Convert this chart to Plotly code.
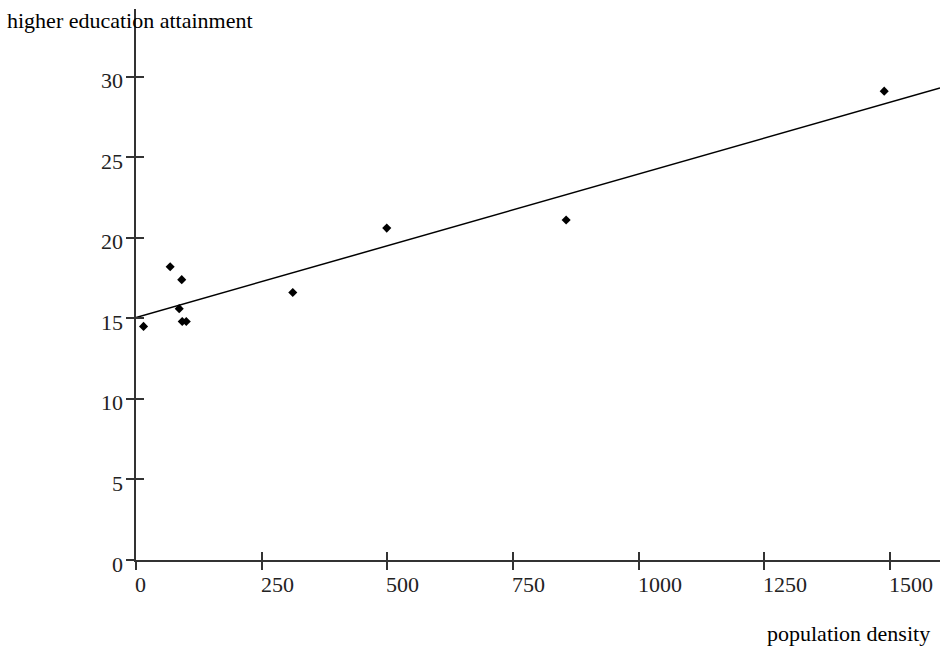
import plotly.graph_objects as go

# ---- data ----
density = [15, 68, 86, 91, 92, 100, 312, 499, 856, 1489]
attainment = [14.5, 18.2, 15.6, 17.4, 14.8, 14.8, 16.6, 20.6, 21.1, 29.1]

trend_x = [0, 1600]
trend_y = [15.05, 29.3]

x_ticks = [0, 250, 500, 750, 1000, 1250, 1500]
y_ticks = [0, 5, 10, 15, 20, 25, 30]

x_title = "population density"
y_title = "higher education attainment"

FONT = "Liberation Serif, Times New Roman, serif"
AX = "#333333"

fig = go.Figure()
fig.add_trace(go.Scatter(x=trend_x, y=trend_y, mode="lines",
                         line=dict(color="black", width=1.5),
                         hoverinfo="skip", showlegend=False))
fig.add_trace(go.Scatter(x=density, y=attainment, mode="markers",
                         marker=dict(symbol="diamond", size=7, color="black"),
                         showlegend=False))

XR = [0, 1600]
YR = [0, 34.2]

fig.update_layout(
    width=940, height=647,
    margin=dict(l=136, r=0, t=9, b=87),
    paper_bgcolor="white", plot_bgcolor="white",
    font=dict(family=FONT, size=22, color="black"),
    xaxis=dict(range=XR, tickvals=x_ticks, showticklabels=False,
               ticks="outside", ticklen=8, tickwidth=1.5, tickcolor=AX,
               showline=True, linecolor=AX, linewidth=2,
               showgrid=False, zeroline=False),
    yaxis=dict(range=YR, tickvals=y_ticks, showticklabels=False,
               ticks="outside", ticklen=8, tickwidth=1.5, tickcolor=AX,
               showline=True, linecolor=AX, linewidth=1.5,
               showgrid=False, zeroline=False),
    xaxis2=dict(range=XR, tickvals=x_ticks, showticklabels=False,
                ticks="inside", ticklen=8, tickwidth=1.5, tickcolor=AX,
                overlaying="x", side="bottom", showline=False,
                showgrid=False, zeroline=False),
    yaxis2=dict(range=YR, tickvals=y_ticks, showticklabels=False,
                ticks="inside", ticklen=8, tickwidth=1.5, tickcolor=AX,
                overlaying="y", side="left", showline=False,
                showgrid=False, zeroline=False),
)
# invisible trace to activate overlay axes
fig.add_trace(go.Scatter(x=[None], y=[None], xaxis="x2", yaxis="y2",
                         showlegend=False, hoverinfo="skip"))

annotations = []
for v in x_ticks:
    annotations.append(dict(x=v, y=0, xref="x", yref="paper", text=str(v),
                            showarrow=False, xanchor="left", yanchor="top",
                            xshift=-3, yshift=-10,
                            font=dict(family=FONT, size=22, color="#222")))
for v in y_ticks:
    annotations.append(dict(x=0, y=v, xref="paper", yref="y", text=str(v),
                            showarrow=False, xanchor="right", yanchor="middle",
                            xshift=-11, yshift=-4,
                            font=dict(family=FONT, size=22, color="#222")))
annotations.append(dict(x=0, y=1, xref="paper", yref="paper", text=y_title,
                        showarrow=False, xanchor="left", yanchor="middle",
                        xshift=-131, yshift=-11,
                        font=dict(family=FONT, size=22, color="black")))
annotations.append(dict(x=0.99, y=0, xref="paper", yref="paper", text=x_title,
                        showarrow=False, xanchor="right", yanchor="middle",
                        yshift=-73,
                        font=dict(family=FONT, size=22, color="black")))
fig.update_layout(annotations=annotations)

fig.write_html("out.html",
               config={"displayModeBar": False},
               post_script="document.body.style.margin='0';"
                           "document.body.style.overflow='hidden';")
